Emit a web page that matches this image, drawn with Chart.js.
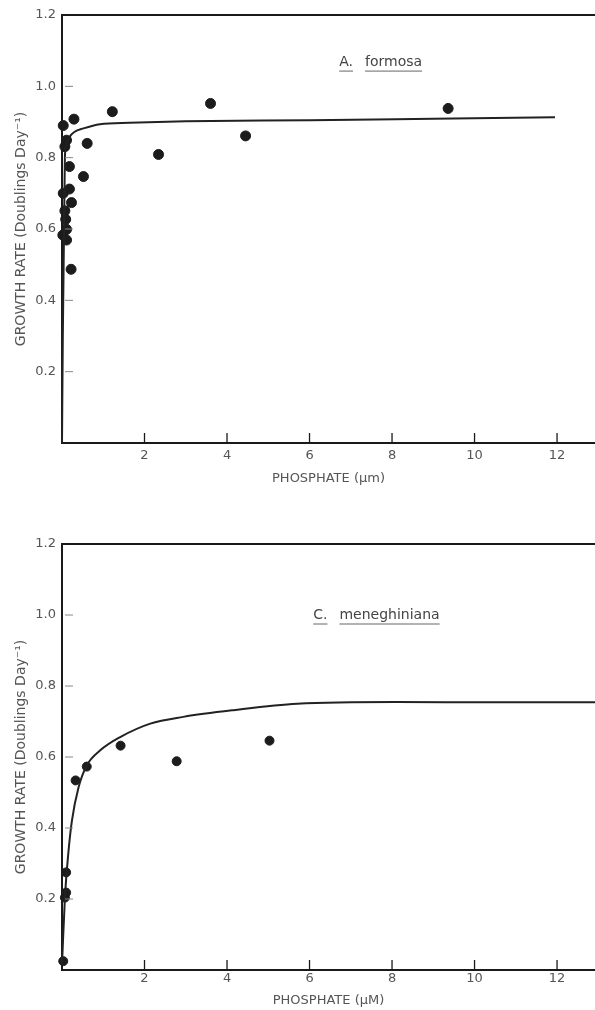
<!DOCTYPE html>
<html>
<head>
<meta charset="utf-8">
<script src="https://cdn.jsdelivr.net/npm/chart.js@4.4.1/dist/chart.umd.min.js"></script>
<style>
  body { margin: 0; background: #fff; }
  #wrap { position: relative; width: 595px; height: 1010px; }
  canvas { position: absolute; left: 0; }
  #c1 { top: 0; }
  #c2 { top: 510px; }
</style>
</head>
<body>
<div id="wrap">
  <canvas id="c1" width="595" height="500"></canvas>
  <canvas id="c2" width="595" height="500"></canvas>
</div>
<script>
// A. formosa - measured growth rates
const formosaX = [0.03, 0.29, 1.22, 3.60, 4.45, 2.34, 0.61, 0.52, 0.11, 0.07, 0.18, 0.18, 0.03, 0.23, 0.07, 0.09, 0.11, 0.02, 0.11, 0.22, 9.36];
const formosaY = [0.89, 0.908, 0.929, 0.952, 0.861, 0.809, 0.840, 0.747, 0.849, 0.831, 0.775, 0.712, 0.700, 0.674, 0.651, 0.627, 0.599, 0.583, 0.569, 0.487, 0.938];
// A. formosa - fitted curve
const formosaCurveX = [0, 0.02, 0.05, 0.07, 0.10, 0.19, 0.30, 0.52, 0.92, 1.64, 3, 6, 9, 11.95];
const formosaCurveY = [0, 0.30, 0.60, 0.80, 0.835, 0.859, 0.872, 0.882, 0.894, 0.898, 0.902, 0.905, 0.909, 0.913];

// C. meneghiniana - measured growth rates
const menegX = [0.03, 0.07, 0.10, 0.10, 0.33, 0.60, 1.42, 2.78, 5.03];
const menegY = [0.025, 0.204, 0.218, 0.275, 0.534, 0.573, 0.632, 0.588, 0.646];
// C. meneghiniana - fitted curve
const menegCurveX = [0, 0.07, 0.15, 0.24, 0.40, 0.60, 0.92, 1.41, 2.14, 2.94, 4.16, 5.7, 8.1, 10.5, 12.95];
const menegCurveY = [0.015, 0.202, 0.325, 0.420, 0.514, 0.576, 0.618, 0.656, 0.694, 0.713, 0.732, 0.750, 0.755, 0.754, 0.754];

const xTicks = [2, 4, 6, 8, 10, 12];
const yTicks = [0.2, 0.4, 0.6, 0.8, 1.0, 1.2];

const FONT = 'DejaVu Sans';
const GREY = '#555';

const toPoints = (xs, ys) => xs.map((x, i) => ({ x: x, y: ys[i] }));

// top frame line, inward tick marks and the species name
const frame = {
  id: 'frame',
  afterDraw(chart, args, opts) {
    const { ctx, chartArea: a, scales: { x, y } } = chart;
    ctx.save();
    ctx.strokeStyle = '#1a1a1a';
    ctx.lineWidth = 2;
    ctx.beginPath();
    ctx.moveTo(a.left, a.top);
    ctx.lineTo(a.right, a.top);
    ctx.stroke();

    ctx.lineWidth = 1.3;
    ctx.beginPath();
    xTicks.forEach(v => {
      const px = x.getPixelForValue(v);
      ctx.moveTo(px, a.bottom);
      ctx.lineTo(px, a.bottom - 10);
    });
    ctx.stroke();

    ctx.strokeStyle = '#888';
    ctx.lineWidth = 1;
    ctx.beginPath();
    yTicks.slice(0, -1).forEach(v => {
      const py = y.getPixelForValue(v);
      ctx.moveTo(a.left + 3, py);
      ctx.lineTo(a.left + 11, py);
    });
    ctx.stroke();

    // species label, underlined word by word
    ctx.font = '14px "' + FONT + '"';
    ctx.fillStyle = '#444';
    ctx.textBaseline = 'middle';
    let lx = x.getPixelForValue(opts.x);
    const ly = y.getPixelForValue(opts.y);
    ctx.strokeStyle = '#666';
    ctx.lineWidth = 1;
    opts.words.forEach(w => {
      const wd = ctx.measureText(w).width;
      ctx.fillText(w, lx, ly);
      ctx.beginPath();
      ctx.moveTo(lx, ly + 9);
      ctx.lineTo(lx + wd, ly + 9);
      ctx.stroke();
      lx += wd + 12;
    });
    ctx.restore();
  }
};

function makeChart(id, pts, curve, cfg) {
  return new Chart(document.getElementById(id), {
    type: 'scatter',
    data: {
      datasets: [
        {
          data: curve,
          showLine: true,
          borderColor: '#222',
          borderWidth: 2,
          pointRadius: 0,
          cubicInterpolationMode: 'monotone',
          clip: false
        },
        {
          data: pts,
          backgroundColor: '#1c1c1c',
          borderColor: '#1c1c1c',
          pointRadius: cfg.radius,
          clip: false
        }
      ]
    },
    options: {
      responsive: false,
      animation: false,
      events: [],
      layout: { autoPadding: false, padding: { top: cfg.padTop, left: 0, right: 0, bottom: 0 } },
      plugins: {
        legend: { display: false },
        tooltip: { enabled: false },
        frame: { words: cfg.words, x: cfg.labelX, y: cfg.labelY }
      },
      scales: {
        x: {
          type: 'linear',
          min: 0,
          max: 12.92,
          afterBuildTicks: s => { s.ticks = xTicks.map(v => ({ value: v })); },
          afterFit: s => { s.height = cfg.xHeight; s.paddingRight = 0; s.paddingLeft = 0; },
          grid: { display: false, drawTicks: false },
          border: { display: true, color: '#1a1a1a', width: 2 },
          ticks: { padding: cfg.xTickPad, color: GREY, maxRotation: 0, autoSkip: false, font: { family: FONT, size: 13 } },
          title: { display: true, text: cfg.xTitle, color: GREY, font: { family: FONT, size: 13 }, padding: { top: 0, bottom: cfg.xTitlePad } }
        },
        y: {
          type: 'linear',
          min: 0,
          max: 1.2,
          afterBuildTicks: s => { s.ticks = yTicks.map(v => ({ value: v })); },
          afterFit: s => { s.width = 62; },
          grid: { display: false, drawTicks: false },
          border: { display: true, color: '#1a1a1a', width: 2 },
          ticks: { padding: 6, color: GREY, font: { family: FONT, size: 13 }, callback: v => v.toFixed(1) },
          title: { display: true, text: 'GROWTH RATE (Doublings Day⁻¹)', color: GREY, font: { family: FONT, size: 14 }, padding: { top: 13, bottom: 0 } }
        }
      }
    },
    plugins: [frame]
  });
}

makeChart('c1', toPoints(formosaX, formosaY), toPoints(formosaCurveX, formosaCurveY), {
  radius: 5, padTop: 15, xHeight: 57, xTickPad: 5, xTitlePad: 14,
  xTitle: 'PHOSPHATE (μm)', words: ['A.', 'formosa'], labelX: 6.72, labelY: 1.068
});

makeChart('c2', toPoints(menegX, menegY), toPoints(menegCurveX, menegCurveY), {
  radius: 4.5, padTop: 34, xHeight: 40, xTickPad: 1, xTitlePad: 2,
  xTitle: 'PHOSPHATE (μM)', words: ['C.', 'meneghiniana'], labelX: 6.09, labelY: 1.0
});
</script>
</body>
</html>
